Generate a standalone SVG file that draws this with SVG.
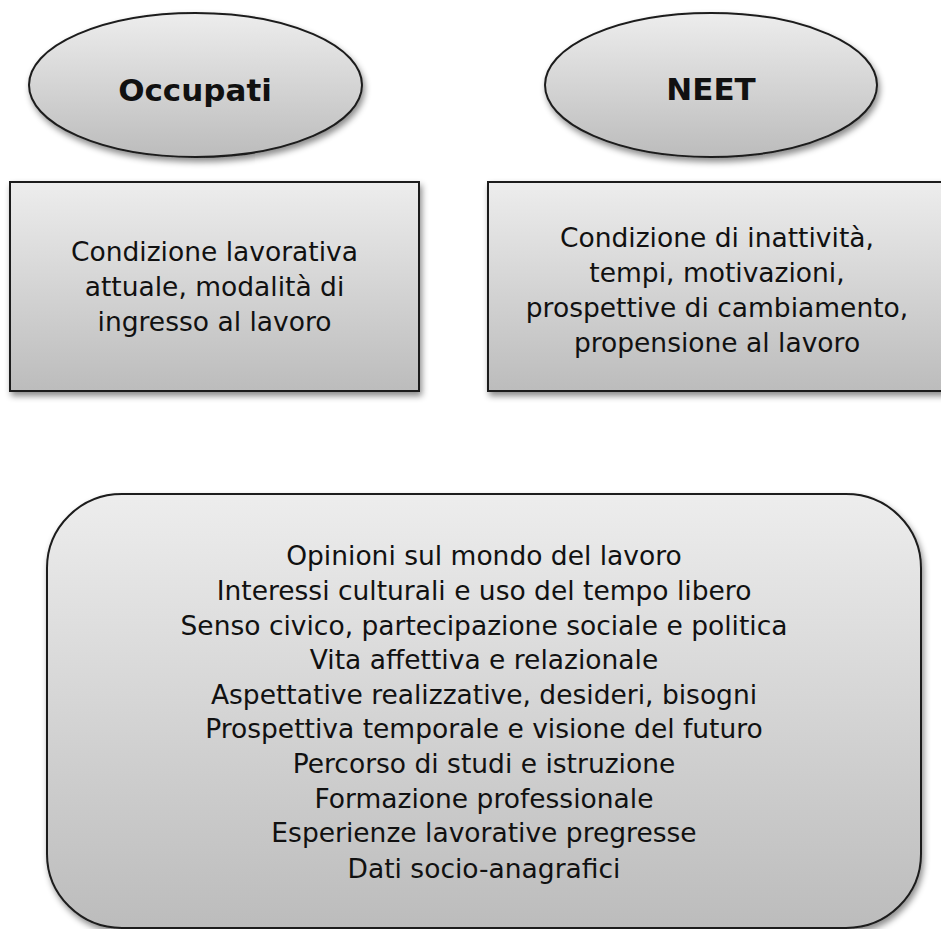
<svg xmlns="http://www.w3.org/2000/svg" width="941" height="929" viewBox="0 0 941 929">
<defs>
<linearGradient id="g" x1="0" y1="0" x2="0" y2="1">
<stop offset="0" stop-color="#ededed"/>
<stop offset="1" stop-color="#bcbcbc"/>
</linearGradient>
<filter id="sh" x="-10%" y="-10%" width="125%" height="130%">
<feDropShadow dx="2" dy="4" stdDeviation="3" flood-color="#000" flood-opacity="0.45"/>
</filter>
</defs>
<style>
.shape{fill:url(#g);stroke:#1c1c1c;stroke-width:2;filter:url(#sh)}
.t{font-family:"DejaVu Sans",Verdana,sans-serif;font-size:26.5px;fill:#111;text-anchor:middle}
.b{font-family:"DejaVu Sans",Verdana,sans-serif;font-size:31px;font-weight:bold;fill:#111;text-anchor:middle}
</style>
<g id="connectors"/>
<g id="occupati">
<ellipse class="shape" cx="195.5" cy="85" rx="166.5" ry="72"/>
<text class="b" x="195" y="101" font-size="34">Occupati</text>
</g>
<g id="neet">
<ellipse class="shape" cx="711" cy="85" rx="166" ry="72"/>
<text class="b" x="711" y="100">NEET</text>
</g>
<g id="box-occupati">
<rect class="shape" x="10" y="182" width="409" height="209"/>
<text class="t" x="214.5" y="261">Condizione lavorativa</text>
<text class="t" x="214.5" y="296">attuale, modalità di</text>
<text class="t" x="214.5" y="331">ingresso al lavoro</text>
</g>
<g id="box-neet">
<rect class="shape" x="488" y="182" width="458" height="209"/>
<text class="t" x="717" y="247">Condizione di inattività,</text>
<text class="t" x="717" y="282">tempi, motivazioni,</text>
<text class="t" x="717" y="317">prospettive di cambiamento,</text>
<text class="t" x="717" y="352">propensione al lavoro</text>
</g>
<g id="common">
<rect class="shape" x="47" y="494" width="874" height="434" rx="75" ry="74"/>
<text class="t" x="484" y="565">Opinioni sul mondo del lavoro</text>
<text class="t" x="484" y="600">Interessi culturali e uso del tempo libero</text>
<text class="t" x="484" y="635">Senso civico, partecipazione sociale e politica</text>
<text class="t" x="484" y="669">Vita affettiva e relazionale</text>
<text class="t" x="484" y="704">Aspettative realizzative, desideri, bisogni</text>
<text class="t" x="484" y="738">Prospettiva temporale e visione del futuro</text>
<text class="t" x="484" y="773">Percorso di studi e istruzione</text>
<text class="t" x="484" y="808">Formazione professionale</text>
<text class="t" x="484" y="842">Esperienze lavorative pregresse</text>
<text class="t" x="484" y="878">Dati socio-anagrafici</text>
</g>
</svg>
